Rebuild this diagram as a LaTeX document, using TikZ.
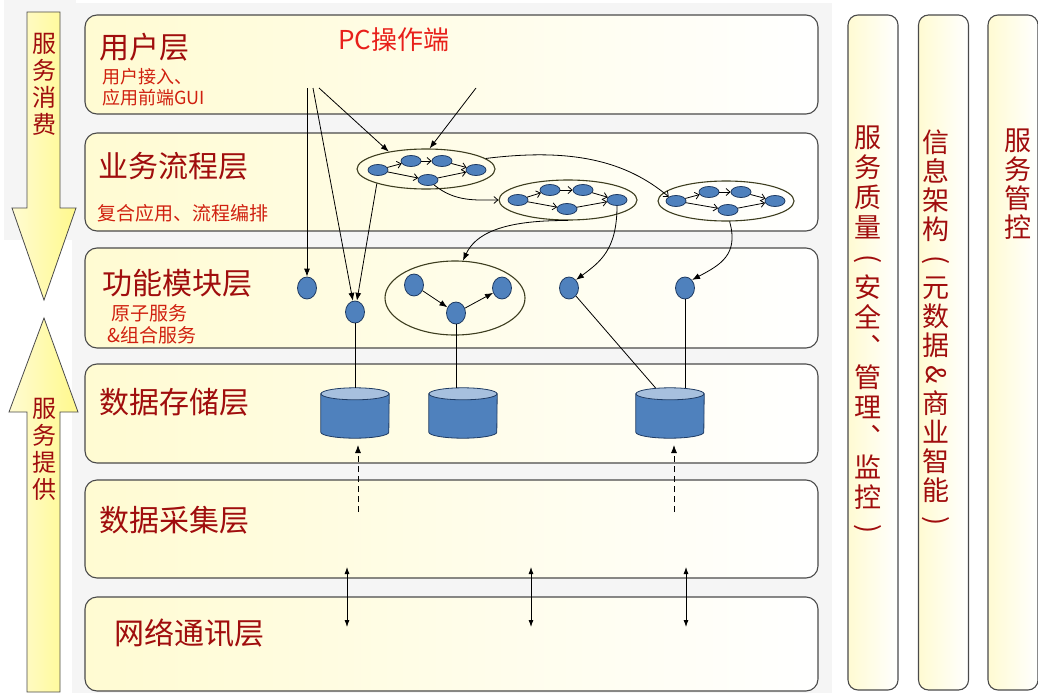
\documentclass[tikz,border=0pt]{standalone}
\usepackage{fontspec}
\setmainfont{Noto Sans CJK SC}
\usetikzlibrary{arrows.meta, positioning, shapes.geometric}
\definecolor{titlered}{HTML}{A00D0D}
\definecolor{subred}{HTML}{D0200F}
\definecolor{pcred}{HTML}{E8201A}
\definecolor{svcblue}{HTML}{4F81BD}
\definecolor{svcedge}{HTML}{1F3B63}
\definecolor{dbtop}{HTML}{A7C0DE}
\definecolor{layerline}{HTML}{4A4A4A}
\definecolor{groupline}{HTML}{3D3D1F}
\definecolor{bandyellow}{HTML}{FFF98C}
\definecolor{bandpale}{HTML}{FFFBD2}

\begin{document}
\begin{tikzpicture}[
    x=1pt, y=-1pt,
    layer/.style={draw=layerline, line width=1.1pt, rounded corners=12pt, left color=bandpale, middle color=bandyellow, right color=white, minimum width=733},
    column/.style={draw=layerline, line width=1.1pt, rounded corners=10pt, left color=bandpale, middle color=bandyellow, right color=white, minimum width=50, minimum height=675},
    bigarrow/.style={draw=layerline, line width=0.8pt, left color=bandpale, right color=bandyellow},
    title/.style={font=\fontsize{30}{32}\selectfont, text=titlered, anchor=west, inner sep=0},
    sub/.style={font=\fontsize{19}{22}\selectfont, text=subred, anchor=west, align=left, inner sep=0},
    vtext/.style={font=\fontsize{27}{30}\selectfont, text=titlered, align=center, anchor=north, inner sep=0},
    svc/.style={ellipse, draw=svcedge, line width=0.8pt, fill=svcblue, minimum width=20, minimum height=11, inner sep=0},
    fnode/.style={svc, minimum width=19, minimum height=22},
    group/.style={ellipse, draw=groupline, line width=1.1pt, inner sep=0},
    dbslot/.style={minimum width=68, minimum height=50, inner sep=0},
    dbbody/.style={draw=svcedge, line width=0.8pt, fill=svcblue},
    dbend/.style={draw=svcedge, line width=0.8pt, fill=dbtop},
    farrow/.style={-{Latex[length=8pt,width=6pt]}, line width=0.8pt},
    tarrow/.style={-{Straight Barb[length=4pt,width=7pt]}, line width=0.8pt},
    darrow/.style={{Latex[length=7pt,width=5pt]}-{Latex[length=7pt,width=5pt]}, line width=0.8pt},
]
    \useasboundingbox (0,0) rectangle (1038,693);
    \fill[black!4] (72,3) rectangle (832,693);
    \fill[black!4] (4,0) rectangle (76,240);

    % Consume / provide arrows
    \draw[bigarrow] (27,12) -- (60,12) -- (60,208) -- (76,208) -- (44,300) -- (12,208) -- (27,208) -- cycle;
    \draw[bigarrow] (44,318) -- (78,412) -- (60,412) -- (60,692) -- (27,692) -- (27,412) -- (9,412) -- cycle;
    \node[vtext, font=\fontsize{24}{27}\selectfont] (consume) at (44,33) {服\\务\\消\\费};
    \node[vtext, font=\fontsize{24}{27}\selectfont] (provide) at (44,398) {服\\务\\提\\供};

    % Layers
    \node[layer, minimum height=99] (user) at (451.5,64.5) {};
    \node[layer, minimum height=98] (flow) at (451.5,182) {};
    \node[layer, minimum height=100] (func) at (451.5,298) {};
    \node[layer, minimum height=99] (store) at (451.5,413.5) {};
    \node[layer, minimum height=98] (collect) at (451.5,529) {};
    \node[layer, minimum height=94] (net) at (451.5,644) {};

    \node[title] (usert) at (99,47) {用户层};
    \node[sub, font=\fontsize{18}{21}\selectfont] (users) at (102,87) {用户接入、\\应用前端GUI};
    \node[font=\fontsize{26}{28}\selectfont, text=pcred] (pc) at (394,40) {PC操作端};
    \node[title] (flowt) at (98,166) {业务流程层};
    \node[sub] (flows) at (97,213) {复合应用、流程编排};
    \node[title] (funct) at (102,283) {功能模块层};
    \node[sub] (funcs) at (107,324) {\ 原子服务\\\&组合服务};
    \node[title] (storet) at (99,402) {数据存储层};
    \node[title] (collectt) at (99,520) {数据采集层};
    \node[title] (nett) at (114,633) {网络通讯层};

    % Side columns
    \node[column] (qos) at (873,352.5) {};
    \node[column] (info) at (943.5,352.5) {};
    \node[column] (ctrl) at (1013,352.5) {};
    \node[vtext] (qost) at (868,125.5) {服\\务\\质\\量\\\rotatebox[origin=c]{-90}{(}\\安\\全\\︑\\管\\理\\︑\\监\\控\\\rotatebox[origin=c]{-90}{)}};
    \node[vtext, font=\fontsize{27}{29}\selectfont] (infot) at (936,129.5) {信\\息\\架\\构\\\rotatebox[origin=c]{-90}{(}\\元\\数\\据\\\rotatebox[origin=c]{-90}{\&}\\商\\业\\智\\能\\\rotatebox[origin=c]{-90}{)}};
    \node[vtext, font=\fontsize{27}{29}\selectfont] (ctrlt) at (1018,128.5) {服\\务\\管\\控};

    % Process flows
    \node[group, minimum width=138, minimum height=40] (flow1) at (426,169) {};
    \node[svc] (a1) at (378,170) {};
    \node[svc] (a2) at (411,161) {};
    \node[svc] (a3) at (442,161) {};
    \node[svc] (a4) at (476,170) {};
    \node[svc] (a5) at (428,180) {};
    \draw[tarrow] (a1) -- (a2);
    \draw[tarrow] (a2) -- (a3);
    \draw[tarrow] (a3) -- (a4);
    \draw[tarrow] (a1) -- (a5);
    \draw[tarrow] (a5) -- (a4);

    \node[group, minimum width=138, minimum height=40] (flow2) at (568,200) {};
    \node[svc] (b1) at (518,200) {};
    \node[svc] (b2) at (550,190) {};
    \node[svc] (b3) at (583,190) {};
    \node[svc] (b4) at (617,200) {};
    \node[svc] (b5) at (567,209) {};
    \draw[tarrow] (b1) -- (b2);
    \draw[tarrow] (b2) -- (b3);
    \draw[tarrow] (b3) -- (b4);
    \draw[tarrow] (b1) -- (b5);
    \draw[tarrow] (b5) -- (b4);

    \node[group, minimum width=136, minimum height=40] (flow3) at (726,201) {};
    \node[svc] (c1) at (676,201) {};
    \node[svc] (c2) at (709,192) {};
    \node[svc] (c3) at (741,192) {};
    \node[svc] (c4) at (775,201) {};
    \node[svc] (c5) at (728,210) {};
    \draw[tarrow] (c1) -- (c2);
    \draw[tarrow] (c2) -- (c3);
    \draw[tarrow] (c3) -- (c4);
    \draw[tarrow] (c1) -- (c5);
    \draw[tarrow] (c5) -- (c4);

    \draw[tarrow] (a5) .. controls (455,202) and (475,200) .. (flow2.west);
    \draw[tarrow] (flow1.10) .. controls (570,148) and (625,160) .. (c1.150);

    % Function modules
    \node[fnode] (f1) at (307,288) {};
    \node[fnode] (f2) at (355,312) {};
    \node[group, minimum width=140, minimum height=74] (grp) at (455,298) {};
    \node[fnode] (g1) at (414,285) {};
    \node[fnode] (g2) at (456,313) {};
    \node[fnode] (g3) at (502,288) {};
    \node[fnode] (f3) at (569,288) {};
    \node[fnode] (f4) at (685,288) {};
    \draw[farrow] (g1) -- (g2);
    \draw[farrow] (g2) -- (g3);

    % User entry lines
    \coordinate (u1) at (307,88);
    \coordinate (u2) at (313,88);
    \coordinate (u3) at (319,88);
    \coordinate (pcend) at (476,88);
    \draw[farrow] (u1) -- (f1);
    \draw[farrow] (u2) -- (f2);
    \draw[farrow] (u3) -- (flow1.155);
    \draw[farrow] (pcend) -- (flow1.80);
    \draw[farrow] (flow1.south west) -- (f2);
    \draw[farrow] (flow2.south) .. controls (500,220) and (475,235) .. (grp.78);
    \draw[farrow] (b4) .. controls (617,250) and (600,262) .. (f3.north east);
    \draw[farrow] (flow3.-80) .. controls (739,255) and (720,265) .. (f4.north east);

    % Storage
    \node[dbslot] (db1) at (355,413) {};
    \node[dbslot] (db2) at (463,413) {};
    \node[dbslot] (db3) at (670,413) {};
    \draw[dbbody] ([yshift=-6pt]db1.north west) -- ([yshift=6pt]db1.south west) arc[start angle=180, end angle=0, x radius=34, y radius=6] -- ([yshift=-6pt]db1.north east) -- cycle;
    \draw[dbend] ([yshift=-6pt]db1.north) ellipse[x radius=34, y radius=6];
    \draw[dbbody] ([yshift=-6pt]db2.north west) -- ([yshift=6pt]db2.south west) arc[start angle=180, end angle=0, x radius=34, y radius=6] -- ([yshift=-6pt]db2.north east) -- cycle;
    \draw[dbend] ([yshift=-6pt]db2.north) ellipse[x radius=34, y radius=6];
    \draw[dbbody] ([yshift=-6pt]db3.north west) -- ([yshift=6pt]db3.south west) arc[start angle=180, end angle=0, x radius=34, y radius=6] -- ([yshift=-6pt]db3.north east) -- cycle;
    \draw[dbend] ([yshift=-6pt]db3.north) ellipse[x radius=34, y radius=6];
    \draw[line width=0.8pt] (f2) -- (db1.north);
    \draw[line width=0.8pt] (g2) -- (g2 |- db2.north);
    \draw[line width=0.8pt] (f3) -- (db3.120);
    \draw[line width=0.8pt] (f4) -- (f4 |- db3.north);

    % Collection to storage
    \coordinate (ds1) at (358,512);
    \coordinate (ds2) at (674,512);
    \draw[farrow, dash pattern=on 6pt off 4pt] (ds1) -- (358,445);
    \draw[farrow, dash pattern=on 6pt off 4pt] (ds2) -- (674,445);

    % Collection <-> network
    \coordinate (n1a) at (347,567);
    \coordinate (n1b) at (347,627);
    \coordinate (n2a) at (531,567);
    \coordinate (n2b) at (531,627);
    \coordinate (n3a) at (686,567);
    \coordinate (n3b) at (686,627);
    \draw[darrow] (n1a) -- (n1b);
    \draw[darrow] (n2a) -- (n2b);
    \draw[darrow] (n3a) -- (n3b);
\end{tikzpicture}
\end{document}
